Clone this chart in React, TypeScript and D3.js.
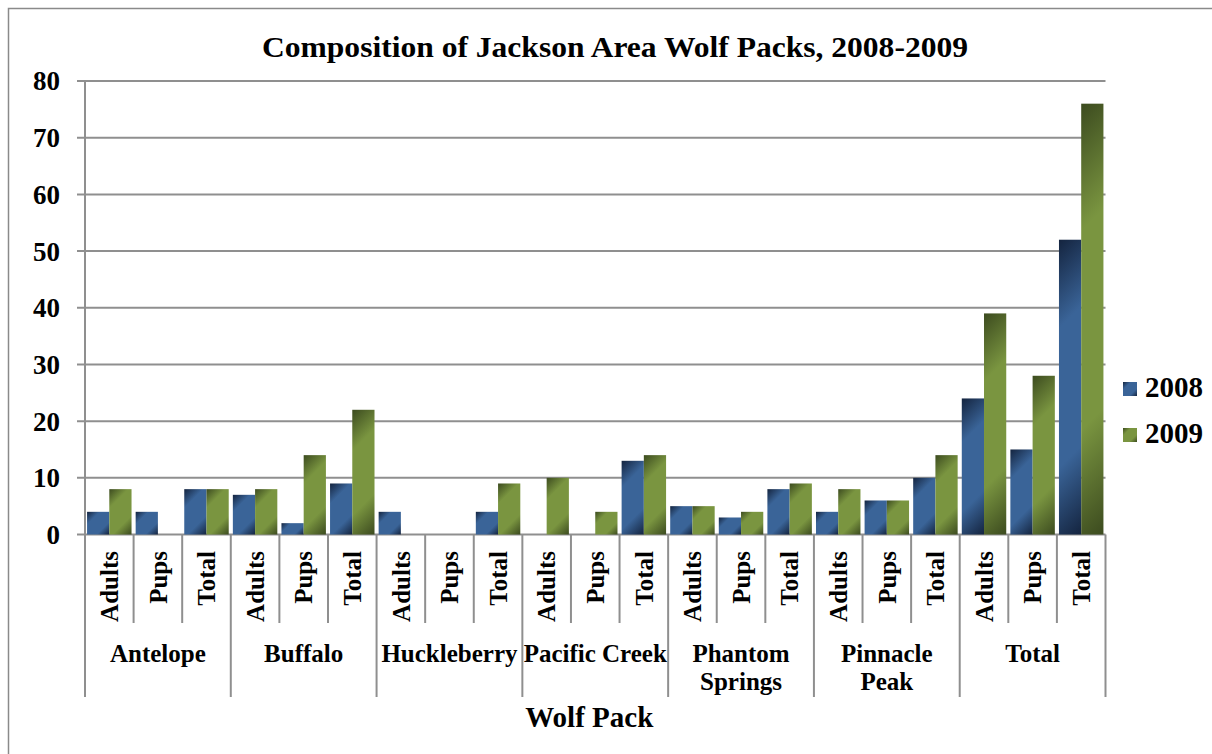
import React from "react";
import * as d3 from "d3";

const packs = ["Antelope", "Buffalo", "Huckleberry", "Pacific Creek", "Phantom Springs", "Pinnacle Peak", "Total"];
const packLabels: string[][] = [["Antelope"], ["Buffalo"], ["Huckleberry"], ["Pacific Creek"], ["Phantom", "Springs"], ["Pinnacle", "Peak"], ["Total"]];
const subCategories = ["Adults", "Pups", "Total"];
const series = ["2008", "2009"];
const values2008 = [4, 4, 8, 7, 2, 9, 4, 0, 4, 0, 0, 13, 5, 3, 8, 4, 6, 10, 24, 15, 52];
const values2009 = [8, 0, 8, 8, 14, 22, 0, 0, 9, 10, 4, 14, 5, 4, 9, 8, 6, 14, 39, 28, 76];
const yTicks = [0, 10, 20, 30, 40, 50, 60, 70, 80];

const W = 1212;
const H = 754;
const left = 85;
const right = 1105.5;
const top = 81;
const bottom = 534.5;
const FONT = "'Liberation Serif', 'Times New Roman', serif";
const AXIS = "#8f8f8f";

const colors = {
  "2008": { dark: "#14243f", light: "#3a6498" },
  "2009": { dark: "#3c4b1f", light: "#7a9540" },
};

function Grad({ id, s, x, y, w, h }: { id: string; s: string; x: number; y: number; w: number; h: number }) {
  const k = (w + h) / 2;
  return (
    <linearGradient id={id} gradientUnits="userSpaceOnUse" x1={x} y1={y} x2={x + k} y2={y + k}>
      <stop offset="0" stopColor={colors[s].dark} />
      <stop offset="0.28" stopColor={colors[s].light} />
      <stop offset="0.72" stopColor={colors[s].light} />
      <stop offset="1" stopColor={colors[s].dark} />
    </linearGradient>
  );
}

export default function App() {
  const cats = packs.flatMap((p) => subCategories.map((s) => `${p}|${s}`));
  const x = d3.scaleBand<string>().domain(cats).range([left, right]).paddingInner(0.085).paddingOuter(0.0425);
  const step = (right - left) / cats.length;
  const xs = d3.scaleBand<string>().domain(series).range([0, x.bandwidth()]);
  const y = d3.scaleLinear().domain([0, 80]).range([bottom, top]);
  const vals: Record<string, number[]> = { "2008": values2008, "2009": values2009 };

  const bars = cats.flatMap((c, i) =>
    series
      .map((s) => {
        const v = vals[s][i];
        return {
          id: `b${i}_${s}`,
          s,
          v,
          x: (x(c) as number) + (xs(s) as number),
          y: y(v),
          w: xs.bandwidth(),
          h: y(0) - y(v),
        };
      })
      .filter((b) => b.v > 0)
  );

  return (
    <svg width={W} height={H} style={{ display: "block", position: "absolute", left: 0, top: 0, background: "#fff" }}>
      <defs>
        {bars.map((b) => (
          <Grad key={b.id} id={"g" + b.id} s={b.s} x={b.x} y={b.y} w={b.w} h={b.h} />
        ))}
        {series.map((s, i) => (
          <Grad key={"lg" + s} id={"lg" + s} s={s} x={1123} y={382 + i * 46} w={14} h={14} />
        ))}
      </defs>
      <rect x={8.5} y={8.5} width={W + 10} height={H + 10} fill="#fff" stroke="#8a8a8a" strokeWidth={1.5} />
      <text x={615} y={57} textAnchor="middle" fontFamily={FONT} fontWeight="bold" fontSize={30} textLength={706} lengthAdjust="spacingAndGlyphs">
        Composition of Jackson Area Wolf Packs, 2008-2009
      </text>
      {yTicks.map((t) => (
        <g key={t}>
          <line x1={77} x2={right} y1={y(t)} y2={y(t)} stroke={AXIS} strokeWidth={2} />
          <text x={60} y={y(t)} dy="0.35em" textAnchor="end" fontFamily={FONT} fontWeight="bold" fontSize={27}>
            {t}
          </text>
        </g>
      ))}
      {bars.map((b) => (
        <rect key={b.id} x={b.x} y={b.y} width={b.w} height={b.h} fill={`url(#g${b.id})`} />
      ))}
      <line x1={left} x2={left} y1={top} y2={697} stroke={AXIS} strokeWidth={2} />
      {cats.map((c, i) => {
        const xr = left + step * (i + 1);
        const isGroup = (i + 1) % 3 === 0;
        return <line key={"sep" + c} x1={xr} x2={xr} y1={bottom} y2={isGroup ? 697 : 623} stroke={AXIS} strokeWidth={2} />;
      })}
      {cats.map((c) => {
        const cx = (x(c) as number) + x.bandwidth() / 2;
        const label = c.split("|")[1];
        return (
          <text key={"lab" + c} transform={`translate(${cx},551) rotate(-90)`} textAnchor="end" dy="0.35em" fontFamily={FONT} fontWeight="bold" fontSize={25}>
            {label}
          </text>
        );
      })}
      {packs.map((p, gi) => {
        const cx = left + step * (gi * 3 + 1.5);
        return (
          <text key={"pk" + p} x={cx} y={662} textAnchor="middle" fontFamily={FONT} fontWeight="bold" fontSize={25}>
            {packLabels[gi].map((ln, li) => (
              <tspan key={li} x={cx} y={662 + li * 28}>
                {ln}
              </tspan>
            ))}
          </text>
        );
      })}
      <text x={(left + right) / 2 - 6} y={727} textAnchor="middle" fontFamily={FONT} fontWeight="bold" fontSize={29}>
        Wolf Pack
      </text>
      {series.map((s, i) => (
        <g key={"lgd" + s}>
          <rect x={1123} y={382 + i * 46} width={14} height={14} fill={`url(#lg${s})`} />
          <text x={1145} y={396.5 + i * 46} fontFamily={FONT} fontWeight="bold" fontSize={29}>
            {s}
          </text>
        </g>
      ))}
    </svg>
  );
}
